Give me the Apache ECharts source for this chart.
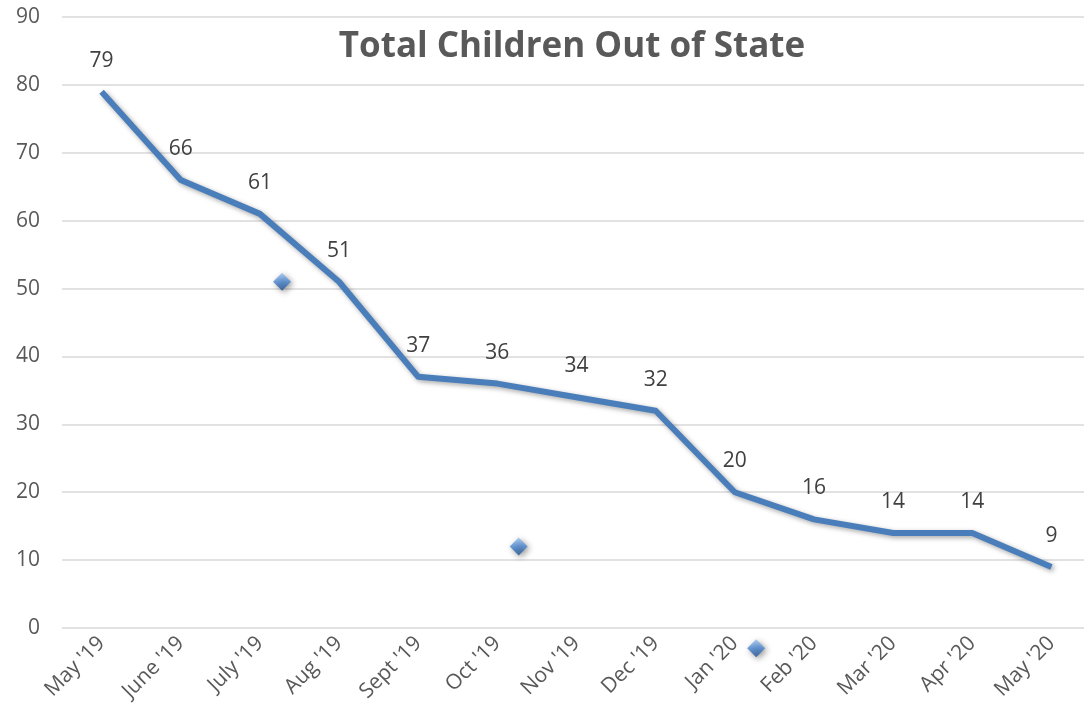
<!DOCTYPE html>
<html>
<head>
<meta charset="utf-8">
<script src="https://cdn.jsdelivr.net/npm/echarts@6/dist/echarts.min.js"></script>
<style>
html,body{margin:0;padding:0;background:#fff;overflow:hidden;}
#chart{width:1084px;height:718px;}
</style>
</head>
<body>
<div id="chart"></div>
<script>
const categories = ["May '19","June '19","July '19","Aug '19","Sept '19","Oct '19","Nov '19","Dec '19","Jan '20","Feb '20","Mar '20","Apr '20","May '20"];
const totalValues = [79,66,61,51,37,36,34,32,20,16,14,14,9];
const markerX = [2.28,5.27,8.27];
const markerY = [51,12,-3];
const yTicks = {min:0,max:90,interval:10};

const chart = echarts.init(document.getElementById('chart'));
const font = "'Open Sans', 'Noto Sans', sans-serif";
chart.setOption({
  animation:false,
  title:{
    text:'Total Children Out of State',
    left:567, top:25, textAlign:'center',
    textStyle:{fontFamily:font,fontSize:35,fontWeight:'bold',color:'#595959'}
  },
  grid:{left:62,width:1029,top:17,height:611,outerBoundsMode:'none',containLabel:false},
  xAxis:[{
    type:'category', data:categories, boundaryGap:true,
    axisLine:{show:false}, axisTick:{show:false},
    axisLabel:{rotate:45,color:'#595959',fontFamily:font,fontSize:21,margin:12,interval:0}
  },{
    type:'value', min:-0.5, max:12.5, show:false
  }],
  yAxis:{
    type:'value', min:yTicks.min, max:yTicks.max, interval:yTicks.interval,
    axisLine:{show:false}, axisTick:{show:false},
    axisLabel:{color:'#595959',fontFamily:font,fontSize:21,margin:22},
    splitLine:{lineStyle:{color:'#d9d9d9',width:1.5}}
  },
  series:[{
    type:'line', data:totalValues, xAxisIndex:0,
    symbol:'circle', symbolSize:1, showSymbol:true,
    itemStyle:{color:'rgba(74,126,187,0)'},
    lineStyle:{color:'#4a7ebb',width:6,join:'round',shadowColor:'rgba(0,0,0,0.35)',shadowBlur:5,shadowOffsetX:2,shadowOffsetY:2},
    label:{show:true,position:'top',distance:20,color:'#404040',fontFamily:font,fontSize:21},
    z:3
  },{
    type:'scatter', xAxisIndex:1, clip:false,
    data:markerX.map((x,i)=>[x,markerY[i]]),
    symbol:'diamond', symbolSize:[18,18],
    itemStyle:{
      color:new echarts.graphic.LinearGradient(0,0,0,1,[{offset:0,color:'#9cc2f0'},{offset:0.5,color:'#4a86d0'},{offset:1,color:'#1f4f8f'}]),
      shadowColor:'rgba(0,0,0,0.5)',shadowBlur:6,shadowOffsetX:2,shadowOffsetY:2
    },
    z:4
  }]
});
</script>
</body>
</html>
